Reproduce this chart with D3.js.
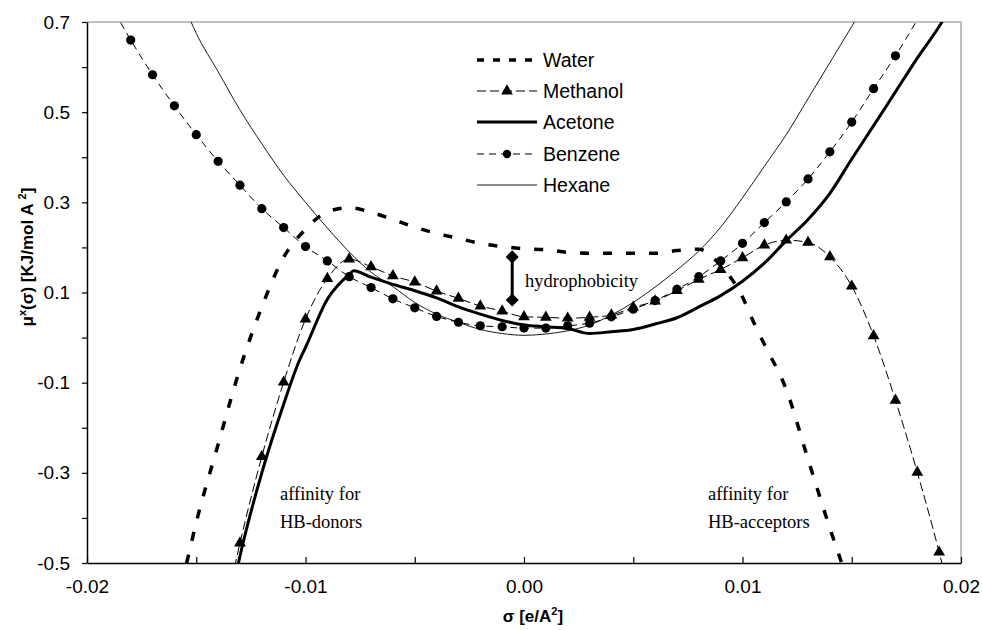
<!DOCTYPE html>
<html><head><meta charset="utf-8">
<script src="https://cdn.jsdelivr.net/npm/d3@7"></script>
<style>
html,body{margin:0;padding:0;background:#fff;}
svg{display:block;}
text{font-family:"Liberation Sans",Arial,sans-serif;}
.serif{font-family:"Liberation Serif","Times New Roman",serif;}
</style></head>
<body>
<svg id="chart" width="982" height="630"></svg>
<script>
// ---------------- data ----------------
const seriesNames = ["Water", "Methanol", "Acetone", "Benzene", "Hexane"];

const waterSigma = [-0.0157,-0.01544,-0.015,-0.014,-0.013,-0.012,-0.011,-0.010,-0.009,-0.008,-0.007,-0.006,-0.005,-0.004,-0.003,-0.002,-0.001,0.000,0.001,0.002,0.003,0.004,0.005,0.006,0.007,0.008,0.009,0.010,0.0105,0.011,0.012,0.013,0.014,0.0146,0.0149];
const waterMu    = [-0.55,-0.50,-0.41,-0.237,-0.069,0.068,0.178,0.240,0.279,0.288,0.278,0.262,0.245,0.231,0.220,0.209,0.202,0.197,0.195,0.189,0.187,0.187,0.187,0.187,0.193,0.196,0.160,0.090,0.035,-0.015,-0.115,-0.270,-0.423,-0.51,-0.56];

const methanolSigma = [-0.014,-0.013,-0.012,-0.011,-0.010,-0.009,-0.008,-0.007,-0.006,-0.005,-0.004,-0.003,-0.002,-0.001,0.000,0.001,0.002,0.003,0.004,0.005,0.006,0.007,0.008,0.009,0.010,0.011,0.012,0.013,0.014,0.015,0.016,0.017,0.018,0.019,0.020];
const methanolMu    = [-0.68,-0.456,-0.264,-0.099,0.041,0.131,0.174,0.157,0.137,0.123,0.103,0.087,0.070,0.059,0.046,0.045,0.043,0.045,0.050,0.067,0.081,0.104,0.129,0.151,0.177,0.205,0.216,0.211,0.179,0.114,0.004,-0.139,-0.299,-0.476,-0.68];

const acetoneSigma = [-0.0135,-0.013,-0.012,-0.011,-0.0103,-0.010,-0.009,-0.008,-0.0078,-0.007,-0.006,-0.005,-0.004,-0.003,-0.002,-0.001,0.000,0.001,0.002,0.003,0.004,0.005,0.006,0.007,0.008,0.009,0.010,0.011,0.012,0.013,0.014,0.015,0.016,0.017,0.018,0.019,0.0195];
const acetoneMu    = [-0.60,-0.485,-0.30,-0.148,-0.053,-0.022,0.085,0.140,0.148,0.134,0.118,0.104,0.088,0.068,0.052,0.038,0.028,0.024,0.020,0.009,0.013,0.018,0.030,0.044,0.068,0.093,0.125,0.165,0.215,0.262,0.320,0.396,0.470,0.545,0.620,0.690,0.730];

const benzeneSigma = [-0.019,-0.018,-0.017,-0.016,-0.015,-0.014,-0.013,-0.012,-0.011,-0.010,-0.009,-0.008,-0.007,-0.006,-0.005,-0.004,-0.003,-0.002,-0.001,0.000,0.001,0.002,0.003,0.004,0.005,0.006,0.007,0.008,0.009,0.010,0.011,0.012,0.013,0.014,0.015,0.016,0.017,0.018];
const benzeneMu    = [0.745,0.660,0.583,0.514,0.450,0.391,0.338,0.286,0.244,0.202,0.170,0.135,0.111,0.086,0.066,0.047,0.034,0.026,0.024,0.021,0.021,0.026,0.032,0.046,0.063,0.082,0.107,0.135,0.170,0.209,0.255,0.301,0.352,0.412,0.478,0.552,0.625,0.705];

const hexaneSigma = [-0.0155,-0.015,-0.014,-0.013,-0.012,-0.011,-0.010,-0.009,-0.008,-0.007,-0.006,-0.005,-0.004,-0.003,-0.002,-0.001,0.000,0.001,0.002,0.003,0.004,0.005,0.006,0.007,0.008,0.009,0.010,0.011,0.012,0.013,0.014,0.015,0.0155];
const hexaneMu    = [0.73,0.675,0.59,0.505,0.43,0.36,0.30,0.243,0.19,0.145,0.113,0.078,0.052,0.034,0.018,0.009,0.005,0.008,0.015,0.028,0.050,0.078,0.112,0.150,0.192,0.245,0.31,0.38,0.45,0.53,0.61,0.69,0.73];

// marker ranges (points drawn with symbols)
const benzeneMarkerRange = [-0.018, 0.017];
const methanolMarkerRange = [-0.013, 0.019];

const xTicks = [-0.02,-0.015,-0.01,-0.005,0,0.005,0.01,0.015,0.02];
const xTickLabels = [-0.02,-0.01,0,0.01,0.02];
const yTicks = [-0.5,-0.4,-0.3,-0.2,-0.1,0,0.1,0.2,0.3,0.4,0.5,0.6,0.7];
const yTickLabels = [-0.5,-0.3,-0.1,0.1,0.3,0.5,0.7];

// annotation data
const hydroSigma = -0.00054;
const hydroRange = [0.0833, 0.179];

// ---------------- drawing ----------------
const svg = d3.select("#chart");
const L = 87, R = 961, T = 22, B = 563;
const x = d3.scaleLinear().domain([-0.02, 0.02]).range([L, R]);
const y = d3.scaleLinear().domain([-0.5, 0.7]).range([B, T]);
const hy = s => s.replace("\u2212", "-");

svg.append("defs").append("clipPath").attr("id","clip")
  .append("rect").attr("x",L).attr("y",T).attr("width",R-L).attr("height",B-T);

// frame: top and right gray
svg.append("line").attr("x1",L).attr("x2",R).attr("y1",T).attr("y2",T).attr("stroke","#808080").attr("stroke-width",1);
svg.append("line").attr("x1",R).attr("x2",R).attr("y1",T).attr("y2",B).attr("stroke","#808080").attr("stroke-width",1);

// axes
const xAxis = d3.axisBottom(x).tickValues(xTicks).tickSizeInner(-6).tickSizeOuter(0)
  .tickFormat(d => xTickLabels.some(v => Math.abs(v-d) < 1e-9) ? hy(d3.format(".2f")(d)) : "");
const gx = svg.append("g").attr("transform",`translate(0,${B})`).call(xAxis);
gx.select(".domain").attr("stroke","#000").attr("stroke-width",1.5);
gx.selectAll(".tick line").attr("stroke","#000").attr("stroke-width",1.2);
gx.selectAll(".tick text").attr("font-size",19).attr("fill","#000").attr("y",17)
  .attr("font-family",'"Liberation Sans",Arial,sans-serif');

const yAxis = d3.axisLeft(y).tickValues(yTicks).tickSizeInner(5).tickSizeOuter(0)
  .tickFormat(d => yTickLabels.some(v => Math.abs(v-d) < 1e-9) ? hy(d3.format(".1f")(d)) : "");
const gy = svg.append("g").attr("transform",`translate(${L},0)`).call(yAxis);
gy.select(".domain").attr("stroke","#000").attr("stroke-width",1.5);
gy.selectAll(".tick line").attr("stroke","#000").attr("stroke-width",1.2);
gy.selectAll(".tick text").attr("font-size",19).attr("fill","#000").attr("x",-17)
  .attr("font-family",'"Liberation Sans",Arial,sans-serif');

// axis titles
const xt = svg.append("text").attr("x",533).attr("y",622).attr("text-anchor","middle")
  .attr("font-size",17).attr("font-weight","bold");
xt.append("tspan").text("σ [e/A");
xt.append("tspan").attr("dy",-7).attr("font-size",11).text("2");
xt.append("tspan").attr("dy",7).text("]");

const yt = svg.append("text").attr("transform","translate(33,257) rotate(-90)")
  .attr("text-anchor","middle").attr("font-size",17).attr("font-weight","bold");
yt.append("tspan").text("μ");
yt.append("tspan").attr("dy",-7).attr("font-size",11).text("x");
yt.append("tspan").attr("dy",7).text("(σ) [KJ/mol A ");
yt.append("tspan").attr("dy",-7).attr("font-size",11).text("2");
yt.append("tspan").attr("dy",7).text("]");

// series
const plot = svg.append("g").attr("clip-path","url(#clip)");
const line = d3.line().x(d => x(d[0])).y(d => y(d[1])).curve(d3.curveMonotoneX);
const zip = (a,b) => a.map((v,i) => [v,b[i]]);

const styles = {
  Water:    {w:3.5, dash:"9,14"},
  Methanol: {w:1,   dash:"9,4"},
  Acetone:  {w:3,   dash:null},
  Benzene:  {w:1,   dash:"7,5"},
  Hexane:   {w:0.9, dash:null}
};
const data = {
  Water: zip(waterSigma, waterMu),
  Methanol: zip(methanolSigma, methanolMu),
  Acetone: zip(acetoneSigma, acetoneMu),
  Benzene: zip(benzeneSigma, benzeneMu),
  Hexane: zip(hexaneSigma, hexaneMu)
};
["Hexane","Acetone","Benzene","Methanol","Water"].forEach(n => {
  plot.append("path").datum(data[n]).attr("d", line).attr("fill","none")
    .attr("stroke","#000").attr("stroke-width",styles[n].w)
    .attr("stroke-dasharray",styles[n].dash);
});

const inRange = (r) => d => d[0] >= r[0]-1e-9 && d[0] <= r[1]+1e-9;
const tri = d3.symbol().type(d3.symbolTriangle).size(60);
plot.selectAll(".tri").data(data.Methanol.filter(inRange(methanolMarkerRange))).join("path")
  .attr("d", tri).attr("transform", d => `translate(${x(d[0])},${y(d[1])})`).attr("fill","#000");
plot.selectAll(".dot").data(data.Benzene.filter(inRange(benzeneMarkerRange))).join("circle")
  .attr("cx", d => x(d[0])).attr("cy", d => y(d[1])).attr("r",4.6).attr("fill","#000");

// hydrophobicity marker
const hx = x(hydroSigma);
svg.append("line").attr("x1",hx).attr("x2",hx).attr("y1",y(hydroRange[0])).attr("y2",y(hydroRange[1]))
  .attr("stroke","#000").attr("stroke-width",3);
const diamond = d3.symbol().type(d3.symbolSquare).size(85);
hydroRange.forEach(v => svg.append("path").attr("d",diamond)
  .attr("transform",`translate(${hx},${y(v)}) rotate(45)`).attr("fill","#000"));
svg.append("text").attr("class","serif").attr("x",525).attr("y",287).attr("font-size",18.5).text("hydrophobicity");

// affinity annotations
[[280,"affinity for","HB-donors"],[708,"affinity for","HB-acceptors"]].forEach(a => {
  svg.append("text").attr("class","serif").attr("x",a[0]).attr("y",500).attr("font-size",18.5).text(a[1]);
  svg.append("text").attr("class","serif").attr("x",a[0]).attr("y",528).attr("font-size",18.5).text(a[2]);
});

// legend
const legY = [60, 91, 122, 154, 185];
const lg = svg.append("g");
seriesNames.forEach((n,i) => {
  const yy = legY[i];
  lg.append("line").attr("x1",477).attr("x2",537).attr("y1",yy).attr("y2",yy)
    .attr("stroke","#000").attr("stroke-width",styles[n].w)
    .attr("stroke-dasharray", n==="Water" ? "7,9" : styles[n].dash);
  if (n==="Methanol") lg.append("path").attr("d",tri).attr("transform",`translate(507,${yy})`);
  if (n==="Benzene") lg.append("circle").attr("cx",507).attr("cy",yy).attr("r",4.2);
  lg.append("text").attr("x",543).attr("y",yy).attr("dy","0.35em").attr("font-size",19.5).text(n);
});
</script>
</body></html>
